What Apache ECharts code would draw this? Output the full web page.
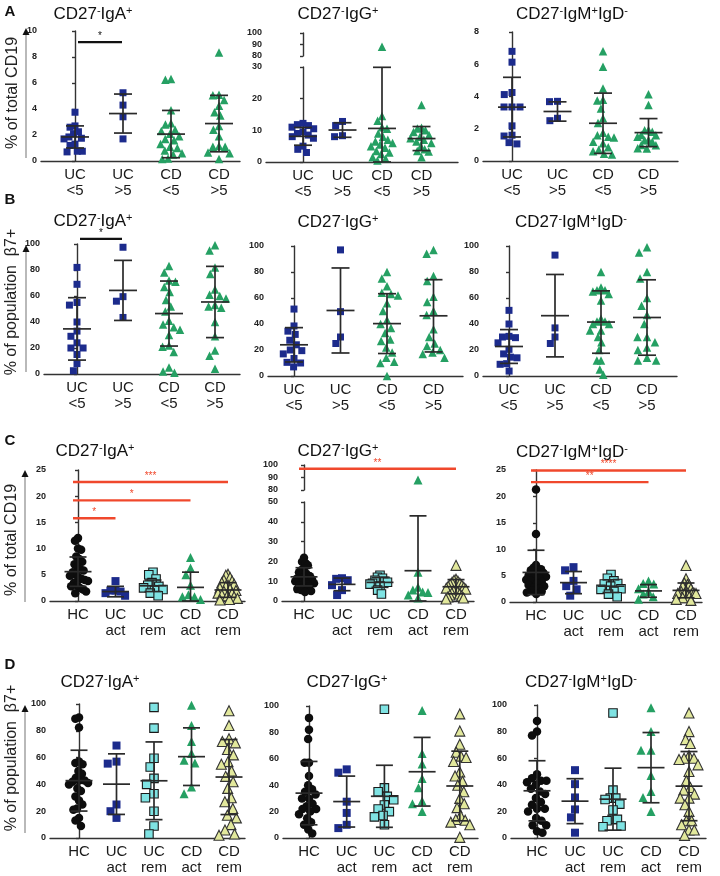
<!DOCTYPE html>
<html><head><meta charset="utf-8">
<script src="https://cdn.jsdelivr.net/npm/echarts@6/dist/echarts.min.js"></script>
<style>html,body{margin:0;padding:0;background:#fff}#c{width:720px;height:876px}</style>
</head><body><div id="c"></div>
<script>
const FONT = '"Liberation Sans", Arial, Helvetica, sans-serif';

// ---------- categories & titles ----------
const catsAB = ['UC\n<5', 'UC\n>5', 'CD\n<5', 'CD\n>5'];
const catsCD = ['HC', 'UC\nact', 'UC\nrem', 'CD\nact', 'CD\nrem'];
const titles = ['CD27⁻IgA⁺', 'CD27⁻IgG⁺', 'CD27⁻IgM⁺IgD⁻'];
const yLabelTotal = '% of total CD19';
const yLabelPop = '% of population  β7+';

// ---------- data ----------
// Panel A: % of total CD19, disease duration
const A1_values = [
  [3.75, 2.7, 2.6, 2.25, 2.1, 1.85, 1.75, 1.7, 1.3, 1.2, 0.75, 0.75, 0.7],
  [5.25, 4.3, 3.4, 1.7],
  [6.3, 6.25, 3.9, 2.9, 2.8, 2.4, 2.3, 2.1, 1.9, 1.7, 1.6, 1.3, 1.1, 1.0, 0.8, 0.6, 0.5, 0.2, 0.15],
  [8.35, 5.1, 5.05, 4.7, 4.25, 3.75, 3.5, 2.7, 2.4, 1.9, 1.15, 1.1, 1.1, 0.65, 0.6, 0.15]
];
const A1_mean = [1.85, 3.65, 2.07, 2.88];
const A1_sd = [0.85, 1.5, 1.82, 2.17];
const A1_sig = [[0, 1, 9.15]];
const A1_sigLabels = ['*'];

const A2_values = [
  [12.2, 11.8, 11.5, 11.0, 10.5, 9.5, 9.0, 8.5, 8.0, 7.5, 5.0, 4.0, 3.0],
  [12.8, 11.5, 8.3, 8.0],
  [88, 14.5, 13.0, 11.0, 10.5, 9.0, 8.0, 7.0, 6.5, 6.0, 5.5, 5.0, 4.5, 3.5, 3.0, 2.5, 1.5, 1.0, 0.5],
  [18, 10.8, 10.6, 10.0, 9.5, 8.5, 8.0, 7.5, 7.0, 6.5, 6.0, 5.0, 4.0, 3.5, 3.3, 1.5]
];
const A2_mean = [8.1, 10.1, 10.6, 7.4];
const A2_sd = [2.8, 2.3, 19.3, 3.8];

const A3_values = [
  [6.8, 6.13, 4.25, 4.12, 3.35, 3.35, 3.35, 2.18, 1.6, 1.55, 1.14, 1.06],
  [3.7, 3.68, 2.65, 2.5],
  [6.8, 5.85, 4.5, 3.8, 3.75, 3.25, 2.65, 2.35, 1.75, 1.6, 1.5, 1.45, 1.2, 1.1, 0.85, 0.7, 0.6, 0.45, 0.4],
  [4.14, 3.48, 1.93, 1.9, 1.82, 1.62, 1.6, 1.5, 1.3, 1.28, 1.2, 1.0, 0.98, 0.79, 0.77]
];
const A3_mean = [3.34, 3.07, 2.34, 1.76];
const A3_sd = [1.85, 0.6, 1.87, 0.87];

// Panel B: % of population beta7+, disease duration
const B1_values = [
  [82, 69, 55, 53, 40, 33, 29, 24, 20, 20, 15, 8, 2.5],
  [97.5, 59.5, 56, 43.5],
  [83, 78, 72, 71, 67, 63, 57, 52, 48, 41, 38, 36, 34, 30, 22, 21, 17, 5, 2, 1],
  [99, 95, 82, 77, 65, 61, 60, 58, 53, 52, 51, 40, 29, 18, 14, 4]
];
const B1_mean = [34.7, 64.3, 46.5, 55.4];
const B1_sd = [24, 23.1, 25, 27.4];
const B1_sig = [[0, 1, 104]];
const B1_sigLabels = ['*'];

const B2_values = [
  [51.5, 38.5, 34.5, 32, 27.5, 24, 20, 19.5, 17, 13.5, 10.5, 10, 7],
  [97, 49.5, 30, 25],
  [80, 75, 69, 64, 63, 62, 56, 50, 43, 40, 37, 33, 28, 27, 22, 18, 14, 11, 10, 0],
  [97, 94, 77, 73, 61, 57, 50, 47, 36, 30, 25, 23, 20, 18, 17, 14]
];
const B2_mean = [24, 50.4, 40.3, 46.3];
const B2_sd = [13.2, 32.7, 23, 27.8];

const B3_values = [
  [50.5, 40, 30.5, 30, 29.5, 25.5, 20.5, 17, 14.5, 14, 9.5, 9, 3.8],
  [93, 37, 30, 25],
  [80, 68, 66, 66, 65, 63, 58, 44, 42, 42, 40, 40, 35, 35, 30, 26, 20, 12, 12, 5, 1],
  [99, 95, 80, 75, 60, 54, 47, 40, 30, 30, 26, 22, 20, 14, 12, 12]
];
const B3_mean = [22.7, 46.4, 41.5, 45];
const B3_sd = [13, 31.7, 24, 29];

// Panel C: % of total CD19, disease activity
const C1_values = [
  [12.0, 11.5, 10.0, 9.8, 8.5, 8.0, 7.5, 7.0, 6.5, 6.0, 5.8, 5.5, 5.0, 4.8, 4.5, 4.2, 4.0, 3.8, 3.5, 3.0, 2.8, 2.5, 2.2, 1.8, 1.5],
  [3.8, 2.0, 2.0, 1.8, 1.5, 1.0],
  [5.5, 5.0, 4.2, 3.5, 3.0, 2.8, 2.5, 2.2, 2.0, 1.5, 1.0],
  [8.3, 6.3, 5.0, 3.0, 1.2, 0.8, 0.8, 0.3],
  [5.1, 4.9, 4.5, 4.0, 3.8, 3.5, 3.2, 3.0, 2.8, 2.5, 2.3, 2.0, 1.8, 1.5, 1.5, 1.2, 1.0, 0.8, 0.5, 0.3, 0.2]
];
const C1_mean = [5.6, 1.8, 2.9, 2.6, 2.1];
const C1_sd = [2.8, 1.0, 1.1, 2.9, 1.4];
const C1_sig = [[0, 1, 15.8], [0, 3, 19.2], [0, 4, 22.7]];
const C1_sigLabels = ['*', '*', '***'];

const C2_values = [
  [21.8, 19.8, 19.0, 18.0, 16.5, 15.5, 14.5, 14.0, 13.0, 12.5, 12.0, 11.5, 11.0, 10.5, 10.0, 9.5, 9.0, 8.5, 8.0, 7.5, 7.0, 6.0, 5.5, 5.0, 4.5],
  [11.5, 11.2, 10.5, 8.0, 5.5, 3.0],
  [13, 12, 11.5, 10.5, 10.0, 9.5, 9.0, 8.5, 7.5, 5.5, 3.5],
  [88, 14.5, 7.0, 5.5, 4.5, 4.3, 3.0, 1.5],
  [18, 11, 10.5, 10, 9.5, 9, 8.5, 8, 7.5, 7, 6.5, 6, 5.5, 5, 4.5, 4, 3.5, 3, 2.5, 2, 1.5, 1]
];
const C2_mean = [12.2, 8.4, 9.4, 15.3, 7.2];
const C2_sd = [4.6, 3.2, 2.5, 27.7, 3.6];
const C2_sig = [[0, 4, 97]];
const C2_sigLabels = ['**'];

const C3_values = [
  [21.3, 12.9, 7.0, 6.5, 6.2, 6.2, 6.0, 5.5, 5.2, 5.0, 4.8, 4.6, 4.5, 4.2, 4.0, 3.8, 3.5, 3.2, 3.0, 2.8, 2.5, 2.2, 2.0, 1.8, 1.5],
  [6.6, 6.0, 4.0, 3.0, 2.4, 1.2],
  [5.2, 4.5, 4.0, 3.5, 3.4, 3.0, 2.5, 2.4, 2.0, 1.5, 1.0],
  [4.0, 3.5, 3.4, 2.5, 2.0, 1.5, 1.0, 0.5],
  [6.9, 4.4, 3.6, 3.3, 3.2, 3.0, 2.5, 2.2, 2.0, 1.8, 1.6, 1.6, 1.6, 1.6, 1.5, 1.2, 1.0, 0.8, 0.5, 0.3]
];
const C3_mean = [5.6, 3.67, 3.0, 2.1, 2.2];
const C3_sd = [4.2, 2.1, 1.2, 1.2, 1.4];
const C3_sig = [[0, 4, 24.9], [0, 3, 22.7]];
const C3_sigLabels = ['****', '**'];

// Panel D: % of population beta7+, disease activity
const D1_values = [
  [90, 89, 82.5, 57, 56, 55, 50, 48, 45, 43, 43, 42, 41, 40, 37, 35, 31, 28, 25, 22, 21, 15, 13, 9],
  [69, 57, 55.5, 25, 20, 15],
  [97.5, 82, 59.5, 53, 44.5, 40, 33, 30, 20, 9, 3],
  [99, 84, 72, 63, 58, 56, 38, 33],
  [95, 84, 74, 72, 71, 66, 62, 57, 55, 50, 46, 42, 37, 30, 27, 22, 17, 15, 10, 6, 3, 2]
];
const D1_mean = [42.8, 40.2, 42.7, 60.7, 45.5];
const D1_sd = [22.7, 22.6, 29, 21.5, 28];

const D2_values = [
  [91, 82, 75, 57, 57, 47, 40, 37, 35, 33, 30, 30, 26, 24, 22, 22, 20, 18, 15, 12, 10, 6.5, 3.5],
  [52, 49.5, 27.5, 19, 10, 7.5],
  [97.5, 38, 35, 31.5, 29, 25, 22, 20, 17, 16, 10],
  [96.5, 64, 56, 45, 38, 28, 26, 20],
  [94, 81, 71, 65, 62, 61, 58, 50, 47, 43, 40, 35, 30, 26, 23, 17, 14, 13.5, 12, 10, 0.5]
];
const D2_mean = [34, 27.6, 31.6, 50.2, 39.4];
const D2_sd = [24, 19.3, 23.5, 26, 26.4];

const D3_values = [
  [88, 80, 77, 48, 45, 43, 43, 42, 40, 37, 35, 33, 30, 27, 25, 22, 22, 20, 15, 13, 9.5, 9.5, 5, 4],
  [51, 40.5, 30.5, 21.5, 15.5, 4],
  [94, 36, 30, 30, 29, 25.5, 21, 14, 14, 13, 9, 8.5],
  [98, 80, 66, 66, 47, 35, 30.5, 20],
  [94, 80, 74, 71, 62, 60, 60, 59, 55, 50, 43, 38, 36, 33, 30, 30, 25, 20, 13, 13, 10, 6, 6, 2]
];
const D3_mean = [35.5, 27.7, 29.2, 52.9, 39];
const D3_sd = [22.6, 16.9, 23.3, 26.4, 26];

// ---------- styles ----------
const BLUE = '#1c2b8c', GREEN = '#25a063', RED = '#f0482c';
const sqBlueAB = {symbol: 'rect', size: 7, color: BLUE};
const triGreenAB = {symbol: 'triangle', size: 8.5, color: GREEN};
const stylesAB = [sqBlueAB, sqBlueAB, triGreenAB, triGreenAB];
const stylesCD = [
  {symbol: 'circle', size: 8.5, color: '#0d0d0d'},
  {symbol: 'rect', size: 8, color: BLUE},
  {symbol: 'rect', size: 8.5, color: '#7fe3e3', border: '#1a1a1a'},
  {symbol: 'triangle', size: 9, color: GREEN},
  {symbol: 'triangle', size: 10, color: '#e2e89c', border: '#333'}
];

// ---------- layout (pixel geometry of each panel) ----------
const panels = [
  {cats: catsAB, vals: A1_values, mean: A1_mean, sd: A1_sd, st: stylesAB, sig: A1_sig, sigL: A1_sigLabels, sigC: '#111',
   L: {axisX: 41, firstC: 75, spacing: 48, xEnd: 240, top: 31, bottom: 161, max: 10, interval: 2}},
  {cats: catsAB, vals: A2_values, mean: A2_mean, sd: A2_sd, st: stylesAB,
   L: {axisX: 266, firstC: 303, spacing: 39.5, xEnd: 458, top: 67, bottom: 162, max: 30, interval: 10,
       upper: {top: 33, bottom: 56, min: 80, max: 100, interval: 10}}},
  {cats: catsAB, vals: A3_values, mean: A3_mean, sd: A3_sd, st: stylesAB,
   L: {axisX: 483, firstC: 512, spacing: 45.5, xEnd: 678, top: 32, bottom: 161, max: 8, interval: 2}},
  {cats: catsAB, vals: B1_values, mean: B1_mean, sd: B1_sd, st: stylesAB, sig: B1_sig, sigL: B1_sigLabels, sigC: '#111',
   L: {axisX: 44, firstC: 77, spacing: 46, xEnd: 240, top: 244, bottom: 374, max: 100, interval: 20}},
  {cats: catsAB, vals: B2_values, mean: B2_mean, sd: B2_sd, st: stylesAB,
   L: {axisX: 268, firstC: 294, spacing: 46.5, xEnd: 463, top: 246, bottom: 376, max: 100, interval: 20}},
  {cats: catsAB, vals: B3_values, mean: B3_mean, sd: B3_sd, st: stylesAB,
   L: {axisX: 483, firstC: 509, spacing: 46, xEnd: 677, top: 246, bottom: 376, max: 100, interval: 20}},
  {cats: catsCD, vals: C1_values, mean: C1_mean, sd: C1_sd, st: stylesCD, sig: C1_sig, sigL: C1_sigLabels, sigC: RED,
   L: {axisX: 50, firstC: 78, spacing: 37.5, xEnd: 245, top: 470, bottom: 601, max: 25, interval: 5}},
  {cats: catsCD, vals: C2_values, mean: C2_mean, sd: C2_sd, st: stylesCD, sig: C2_sig, sigL: C2_sigLabels, sigC: RED, sigUpper: true,
   L: {axisX: 282, firstC: 304, spacing: 38, xEnd: 474, top: 502, bottom: 601, max: 50, interval: 10,
       upper: {top: 465, bottom: 490, min: 80, max: 100, interval: 10}}},
  {cats: catsCD, vals: C3_values, mean: C3_mean, sd: C3_sd, st: stylesCD, sig: C3_sig, sigL: C3_sigLabels, sigC: RED,
   L: {axisX: 510, firstC: 536, spacing: 37.5, xEnd: 702, top: 470, bottom: 602, max: 25, interval: 5}},
  {cats: catsCD, vals: D1_values, mean: D1_mean, sd: D1_sd, st: stylesCD,
   L: {axisX: 50, firstC: 79, spacing: 37.5, xEnd: 245, top: 704, bottom: 838, max: 100, interval: 20}},
  {cats: catsCD, vals: D2_values, mean: D2_mean, sd: D2_sd, st: stylesCD,
   L: {axisX: 283, firstC: 309, spacing: 37.7, xEnd: 478, top: 706, bottom: 839, max: 100, interval: 20}},
  {cats: catsCD, vals: D3_values, mean: D3_mean, sd: D3_sd, st: stylesCD,
   L: {axisX: 511, firstC: 537, spacing: 38, xEnd: 706, top: 705, bottom: 839, max: 100, interval: 20}}
];

// deterministic beeswarm: horizontal pixel offsets, compressed to a maximum half-width
function swarm(values, pxPerUnit, d, maxW) {
  const order = values.map((v, i) => i).sort((a, b) => values[b] - values[a]);
  const placed = [], xs = new Array(values.length);
  for (const i of order) {
    const y = values[i] * pxPerUnit;
    const cands = [0];
    for (const p of placed) {
      const dy = Math.abs(p.y - y);
      if (dy < d) { const dx = Math.sqrt(d * d - dy * dy); cands.push(p.x + dx, p.x - dx); }
    }
    cands.sort((a, b) => (Math.abs(a) - Math.abs(b)) || (a - b));
    let chosen = 0;
    for (const c of cands) {
      if (placed.every(p => (p.x - c) ** 2 + (p.y - y) ** 2 >= d * d - 1e-6)) { chosen = c; break; }
    }
    placed.push({x: chosen, y}); xs[i] = chosen;
  }
  const m = Math.max(0, ...xs.map(Math.abs));
  const k = m > maxW ? maxW / m : 1;
  return xs.map(x => x * k);
}

const axisLineStyle = {color: '#333', width: 1.4};
const option = {animation: false, backgroundColor: '#fff', grid: [], xAxis: [], yAxis: [], series: [], graphic: []};

function yAxisDef(gi, min, max, interval) {
  return {gridIndex: gi, type: 'value', min, max, interval,
    axisLine: {show: true, lineStyle: axisLineStyle},
    axisTick: {show: true, length: 3, lineStyle: axisLineStyle},
    splitLine: {show: false},
    axisLabel: {fontFamily: FONT, fontWeight: 'bold', fontSize: 9, color: '#222', margin: 4}};
}

function errRender(W, C) {
  return function (params, api) {
    const i = api.value(0);
    const m = api.coord([i, api.value(1)]);
    const lo = api.coord([i, api.value(2)]);
    const hi = api.coord([i, api.value(3)]);
    const st = {stroke: '#2a2a2a', lineWidth: 1.7};
    return {type: 'group', children: [
      {type: 'line', shape: {x1: m[0] - W, y1: m[1], x2: m[0] + W, y2: m[1]}, style: st},
      {type: 'line', shape: {x1: m[0], y1: lo[1], x2: m[0], y2: hi[1]}, style: st},
      {type: 'line', shape: {x1: m[0] - C, y1: lo[1], x2: m[0] + C, y2: lo[1]}, style: st},
      {type: 'line', shape: {x1: m[0] - C, y1: hi[1], x2: m[0] + C, y2: hi[1]}, style: st}
    ]};
  };
}

function sigRender(color, labels, padStart, padEnd, lw) {
  return function (params, api) {
    const a = api.coord([api.value(0), api.value(2)]);
    const b = api.coord([api.value(1), api.value(2)]);
    const x1 = a[0] + padStart, x2 = b[0] + padEnd;
    return {type: 'group', children: [
      {type: 'line', shape: {x1, y1: a[1], x2, y2: a[1]}, style: {stroke: color, lineWidth: lw}},
      {type: 'text', x: (x1 + x2) / 2, y: a[1] - 1,
       style: {text: labels[params.dataIndex], fill: color, font: '10px ' + FONT, align: 'center', verticalAlign: 'bottom'}}
    ]};
  };
}

panels.forEach(p => {
  const L = p.L, n = p.cats.length;
  const xmin = -(L.firstC - L.axisX) / L.spacing, xmax = (L.xEnd - L.firstC) / L.spacing;
  const isCD = n === 5;
  const maxW = isCD ? 10 : 11;
  const gi = option.grid.length;
  option.grid.push({left: L.axisX, top: L.top, width: L.xEnd - L.axisX, height: L.bottom - L.top});
  option.xAxis.push({gridIndex: gi, type: 'value', min: xmin, max: xmax,
    axisLine: {show: true, lineStyle: axisLineStyle}, axisTick: {show: false}, splitLine: {show: false},
    axisLabel: {customValues: p.cats.map((c, i) => i), formatter: v => p.cats[Math.round(v)] || '',
      fontFamily: FONT, fontSize: 15, lineHeight: 16, color: '#1a1a1a', margin: 6}});
  option.yAxis.push(yAxisDef(gi, 0, L.max, L.interval));
  let gu = -1;
  if (L.upper) {
    gu = option.grid.length;
    option.grid.push({left: L.axisX, top: L.upper.top, width: L.xEnd - L.axisX, height: L.upper.bottom - L.upper.top});
    option.xAxis.push({gridIndex: gu, type: 'value', min: xmin, max: xmax, show: false});
    option.yAxis.push(yAxisDef(gu, L.upper.min, L.upper.max, L.upper.interval));
  }
  const pyL = (L.bottom - L.top) / L.max;
  p.vals.forEach((arr, g) => {
    const st = p.st[g];
    const d = st.size + 1;
    const itemStyle = {color: st.color, opacity: 1};
    if (st.border) { itemStyle.borderColor = st.border; itemStyle.borderWidth = 1.1; }
    const low = L.upper ? arr.filter(v => v <= L.max) : arr.slice();
    const up = L.upper ? arr.filter(v => v > L.max) : [];
    const xl = swarm(low, pyL, d, maxW);
    option.series.push({type: 'scatter', xAxisIndex: gi, yAxisIndex: gi, symbol: st.symbol, symbolSize: st.size,
      itemStyle, z: 2, silent: true, data: low.map((v, k) => [g + xl[k] / L.spacing, v])});
    if (up.length) {
      const pyU = (L.upper.bottom - L.upper.top) / (L.upper.max - L.upper.min);
      const xu = swarm(up.map(v => v - L.upper.min), pyU, d, maxW);
      option.series.push({type: 'scatter', xAxisIndex: gu, yAxisIndex: gu, symbol: st.symbol, symbolSize: st.size,
        itemStyle, z: 2, silent: true, data: up.map((v, k) => [g + xu[k] / L.spacing, v])});
    }
  });
  option.series.push({type: 'custom', xAxisIndex: gi, yAxisIndex: gi, z: 4, silent: true,
    renderItem: errRender(isCD ? 13.5 : 14, isCD ? 8.5 : 9),
    data: p.mean.map((m, k) => [k, m, Math.max(m - p.sd[k], 0), Math.min(m + p.sd[k], L.max)])});
  if (p.sig) {
    const gs = p.sigUpper ? gu : gi;
    option.series.push({type: 'custom', xAxisIndex: gs, yAxisIndex: gs, z: 5, silent: true, clip: false,
      renderItem: isCD ? sigRender(p.sigC, p.sigL, -5, 0, 2.4) : sigRender(p.sigC, p.sigL, 3, -1, 2.2),
      data: p.sig});
  }
});

// ---------- titles, panel letters, y-axis labels ----------
function richTitle(t) {
  let out = '', buf = '';
  for (const ch of t) {
    if (ch === '⁻' || ch === '⁺') {
      if (buf) { out += '{n|' + buf + '}'; buf = ''; }
      out += '{s|' + (ch === '⁻' ? '-' : '+') + '}';
    } else buf += ch;
  }
  if (buf) out += '{n|' + buf + '}';
  return out;
}
const titleRich = {
  n: {fontFamily: FONT, fontSize: 17, fill: '#111'},
  s: {fontFamily: FONT, fontSize: 11, fill: '#111', verticalAlign: 'top'}
};
const titlePos = [
  [93, 14], [338, 14], [572, 14],
  [93, 221], [338, 222], [571, 222],
  [95, 451], [338, 451], [572, 452],
  [100, 682], [347, 682], [581, 682]
];
titlePos.forEach((pos, i) => {
  option.graphic.push({type: 'text', x: pos[0], y: pos[1], silent: true,
    style: {text: richTitle(titles[i % 3]), rich: titleRich, align: 'center', verticalAlign: 'middle'}});
});
[['A', 10, 12], ['B', 10, 200], ['C', 10, 441], ['D', 10, 665]].forEach(l => {
  option.graphic.push({type: 'text', x: l[1], y: l[2], silent: true,
    style: {text: l[0], font: 'bold 15px ' + FONT, fill: '#111', align: 'center', verticalAlign: 'middle'}});
});
[
  [yLabelTotal, 13, 93, 26, 158, 28],
  [yLabelPop, 12, 302, 26, 372, 245],
  [yLabelTotal, 12, 540, 25, 602, 470],
  [yLabelPop, 12, 758, 25, 833, 705]
].forEach(a => {
  option.graphic.push({type: 'text', x: a[1], y: a[2], rotation: Math.PI / 2, silent: true,
    style: {text: a[0], font: '16px ' + FONT, fill: '#222', align: 'center', verticalAlign: 'middle'}});
  option.graphic.push({type: 'line', silent: true, shape: {x1: a[3], y1: a[4], x2: a[3], y2: a[5] + 5},
    style: {stroke: '#8a8a8a', lineWidth: 1.2}});
  option.graphic.push({type: 'polygon', silent: true,
    shape: {points: [[a[3], a[5]], [a[3] - 3.5, a[5] + 7], [a[3] + 3.5, a[5] + 7]]}, style: {fill: '#111'}});
});

const chart = echarts.init(document.getElementById('c'), null, {renderer: 'canvas'});
chart.setOption(option);
</script>
</body></html>
